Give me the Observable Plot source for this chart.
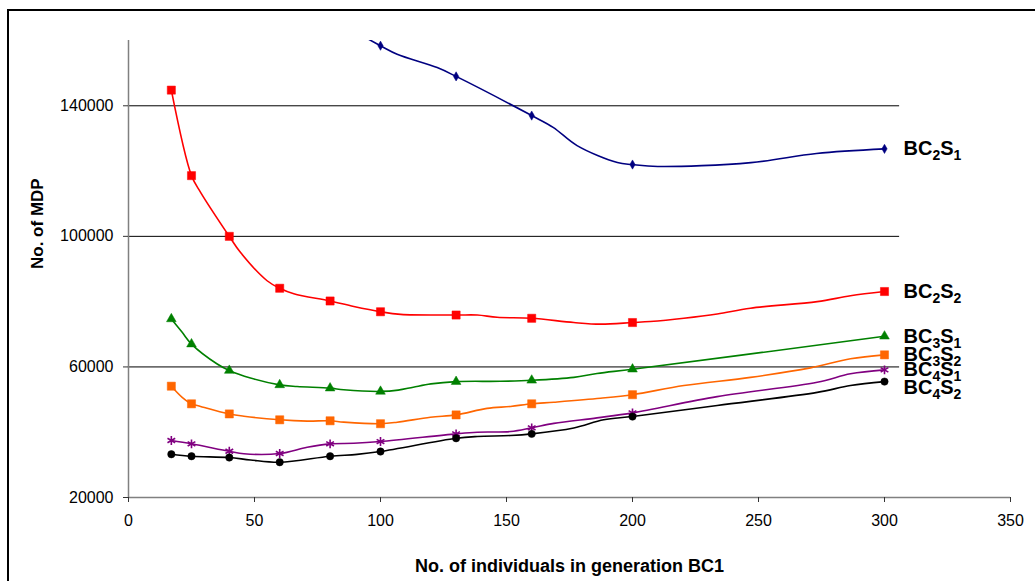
<!DOCTYPE html>
<html><head><meta charset="utf-8">
<script src="https://cdn.jsdelivr.net/npm/d3@7"></script>
<script src="https://cdn.jsdelivr.net/npm/@observablehq/plot@0.6"></script>
<style>
html,body{margin:0;padding:0;background:#fff;}
#wrap{position:relative;width:1035px;height:581px;overflow:hidden;font-family:"Liberation Sans",Arial,sans-serif;}
#frame{position:absolute;left:7px;top:9px;width:1100px;height:700px;border:2px solid #000;box-sizing:border-box;pointer-events:none;}
#chart{position:absolute;left:0;top:0;}
</style></head><body><div id="wrap"><div id="chart"></div><div id="frame"></div></div>
<script>
// ---- data ----
const xTicks = [0, 50, 100, 150, 200, 250, 300, 350];
const yTicks = [20000, 60000, 100000, 140000];
const gridValues = [60000, 100000, 140000];
const sampleSizes = [17, 25, 40, 60, 80, 100, 130, 160, 200, 300];
const seriesNames = ["BC2S1", "BC2S2", "BC3S1", "BC3S2", "BC4S1", "BC4S2"];

// values at the marked sample sizes
const bc2s1Markers = [null, null, null, null, null, 158400, 149000, 137000, 122000, 126800];
const bc2s2Markers = [144800, 118600, 100000, 84100, 80200, 76900, 75900, 74900, 73600, 83100];
const bc3s1Markers = [74700, 67000, 58900, 54500, 53500, 52500, 55500, 55900, 59300, 69400];
const bc3s2Markers = [54100, 48700, 45600, 43800, 43500, 42600, 45300, 48700, 51500, 63700];
const bc4s1Markers = [37450, 36440, 34170, 33470, 36440, 37140, 39500, 41340, 45930, 59090];
const bc4s2Markers = [33250, 32640, 32240, 30800, 32640, 34080, 38150, 39500, 44790, 55510];

// extra points read along each (unmarked) line
const bc2s1Trace = [[80, 167000], [106.6, 155800], [122.5, 151700], [168.5, 133400], [178, 127800], [194, 122600], [210, 121400], [247, 122600], [273, 125400]];
const bc2s2Trace = [[28.6, 113500], [44.4, 95100], [55, 86400], [65.6, 82400], [89.4, 78500], [108, 76100], [138.4, 75900], [146.3, 75200], [176.7, 73600], [187.3, 73100], [207, 73900], [220.4, 74900], [233.6, 76200], [246.8, 78000], [273.3, 80000], [286.5, 81800]];
const bc3s1Trace = [[21.3, 70600], [35.2, 60900], [48.4, 56600], [66.9, 54000], [85.4, 53000], [107, 52900], [113, 53800], [120, 54800], [147.6, 55600], [176.7, 56800], [185.9, 58000], [286.5, 68000]];
const bc3s2Trace = [[21.3, 50700], [28.6, 47900], [45.8, 44900], [70.9, 43400], [85.4, 43100], [106.6, 43050], [119.8, 44600], [142.3, 47300], [151.6, 47900], [168.8, 49200], [187.3, 50400], [220.4, 54300], [246.8, 56800], [270.6, 59700], [286.5, 62500]];
const bc4s1Trace = [[45.8, 33400], [70.9, 35400], [89.4, 36600], [138.4, 40000], [151.6, 40200], [168.8, 42700], [185.9, 44400], [233.6, 50900], [273.3, 55300], [286.5, 57900]];
const bc4s2Trace = [[48.4, 31500], [90.7, 33200], [138.4, 38700], [151.6, 39000], [176.7, 41300], [188.6, 43800], [233.6, 48200], [273.3, 52200], [286.5, 54300]];

const allMarkers = [bc2s1Markers, bc2s2Markers, bc3s1Markers, bc3s2Markers, bc4s1Markers, bc4s2Markers];
const allTraces = [bc2s1Trace, bc2s2Trace, bc3s1Trace, bc3s2Trace, bc4s1Trace, bc4s2Trace];

// ---- styles ----
const styles = [
  {color: "#000080", symbol: "diamond", r: 2.8},
  {color: "#FF0000", symbol: "square", r: 4.6},
  {color: "#008000", symbol: "triangle", r: 3.6},
  {color: "#FF6600", symbol: "square", r: 4.6},
  {color: "#800080", symbol: "asterisk", r: 4.2},
  {color: "#000000", symbol: "circle", r: 3.7}
];
const gridEnd = 306;

// ---- build tables ----
const lineRows = [];
const dotRows = seriesNames.map(() => []);
seriesNames.forEach((name, i) => {
  const pts = sampleSizes.map((x, j) => [x, allMarkers[i][j]]).filter(p => p[1] != null);
  pts.forEach(([x, y]) => dotRows[i].push({series: name, x, y}));
  pts.concat(allTraces[i]).sort((a, b) => a[0] - b[0]).forEach(([x, y]) => lineRows.push({series: name, x, y}));
});
const labelRows = seriesNames.map((name, i) => ({series: name, x: sampleSizes[sampleSizes.length - 1], y: allMarkers[i][allMarkers[i].length - 1]}));

const marks = [
  Plot.ruleY(gridValues, {x1: 0, x2: gridEnd, stroke: "#000", strokeWidth: 1}),
  Plot.ruleX([0], {stroke: "#808080", strokeWidth: 1.5}),
  Plot.ruleY([20000], {stroke: "#808080", strokeWidth: 1.5}),
  Plot.axisY({ticks: yTicks, tickSize: 5, tickPadding: 10, tickFormat: d => String(d), fontSize: 16, stroke: "#333", label: null}),
  Plot.axisX({ticks: xTicks, tickSize: 5, tickPadding: 12, tickFormat: d => String(d), fontSize: 16, stroke: "#333", label: null}),
  Plot.line(lineRows, {x: "x", y: "y", z: "series", stroke: d => styles[seriesNames.indexOf(d.series)].color, curve: "catmull-rom", strokeWidth: 1.6, clip: true})
];
seriesNames.forEach((name, i) => {
  const s = styles[i];
  const filled = s.symbol !== "asterisk";
  marks.push(Plot.dot(dotRows[i], {x: "x", y: "y", symbol: () => s.symbol, r: s.r, fill: filled ? s.color : "none", stroke: s.color, strokeWidth: filled ? 0.5 : 1.6, clip: true}));
});
marks.push(
  Plot.text(labelRows.slice(0, 5), {x: "x", y: "y", text: "series", textAnchor: "start", dx: 19, fontSize: 20, fontWeight: "bold", fill: "#000"}),
  Plot.text(labelRows.slice(5), {x: "x", y: "y", text: "series", textAnchor: "start", dx: 19, dy: 6, fontSize: 20, fontWeight: "bold", fill: "#000"}),
  Plot.text(["No. of MDP"], {frameAnchor: "left", rotate: -90, dx: -91, fontSize: 17, fontWeight: "bold", fill: "#000"}),
  Plot.text(["No. of individuals in generation BC1"], {frameAnchor: "bottom", dy: 74, fontSize: 18, fontWeight: "bold", fill: "#000"})
);

const chart = Plot.plot({
  width: 1035, height: 581,
  marginLeft: 128, marginRight: 25, marginTop: 40, marginBottom: 84,
  x: {domain: [0, 350]},
  y: {domain: [20000, 160000]},
  symbol: {type: "identity"},
  style: {fontFamily: '"Liberation Sans", Arial, sans-serif', fontSize: "16px", background: "transparent", color: "#000"},
  marks
});

// tick label size
chart.querySelectorAll('g[aria-label$="tick label"]').forEach(g => {
  g.setAttribute("font-size", "16");
  g.style.fontSize = "16px";
});

// subscripts in series labels
const ns = "http://www.w3.org/2000/svg";
chart.querySelectorAll("text").forEach(t => {
  const m = t.textContent.match(/^BC(\d)S(\d)$/);
  if (!m) return;
  t.textContent = "";
  [["BC", 0], [m[1], 1], ["S", 0], [m[2], 1]].forEach(([str, sub], k) => {
    const ts = document.createElementNS(ns, "tspan");
    ts.textContent = str;
    if (sub) { ts.setAttribute("font-size", "14"); ts.setAttribute("dy", "5"); }
    else if (k > 0) { ts.setAttribute("dy", "-5"); }
    t.appendChild(ts);
  });
});
document.getElementById("chart").appendChild(chart);
</script></body></html>
